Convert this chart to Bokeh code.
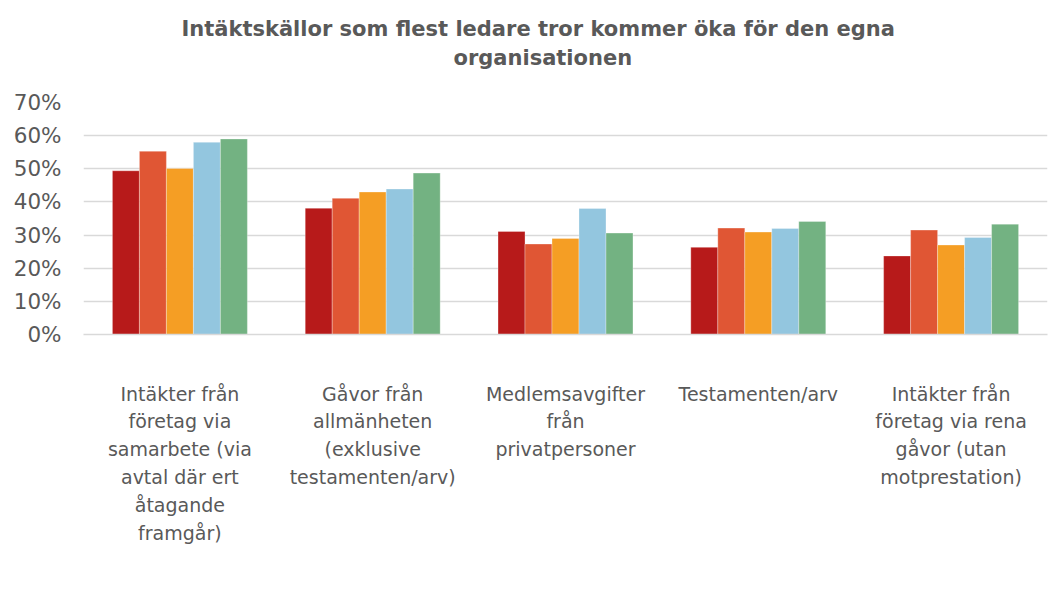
from bokeh.plotting import figure
from bokeh.models import (FactorRange, Range1d, Legend, LegendItem, Title,
                          PrintfTickFormatter, FixedTicker, ColumnDataSource)
from bokeh.transform import dodge
from bokeh.embed import file_html
from bokeh.resources import INLINE

categories = [
    "Intäkter från\nföretag via\nsamarbete (via\navtal där ert\nåtagande\nframgår)",
    "Gåvor från\nallmänheten\n(exklusive\ntestamenten/arv)",
    "Medlemsavgifter\nfrån\nprivatpersoner",
    "Testamenten/arv",
    "Intäkter från\nföretag via rena\ngåvor (utan\nmotprestation)",
]
years = ["2022", "2021", "2020", "2019", "2018"]
v2022 = [49.4, 38.1, 31.1, 26.3, 23.7]
v2021 = [55.3, 41.1, 27.3, 32.1, 31.5]
v2020 = [50.1, 43.0, 29.0, 30.9, 27.0]
v2019 = [58.0, 43.9, 38.0, 32.0, 29.3]
v2018 = [59.0, 48.7, 30.6, 34.1, 33.3]
y_ticks = [0, 10, 20, 30, 40, 50, 60, 70]
title_lines = ["Intäktskällor som flest ledare tror kommer öka för den egna",
               "organisationen"]

series = [v2022, v2021, v2020, v2019, v2018]
colors = ["#B71A1A", "#E05634", "#F59E24", "#93C6DF", "#73B282"]

FONT = "DejaVu Sans"
TXT = "#595959"

src = ColumnDataSource(dict(cat=categories, **{"y" + y: s for y, s in zip(years, series)}))

p = figure(x_range=FactorRange(*categories), y_range=Range1d(0, 70),
           frame_width=964, frame_height=232, output_backend="svg", toolbar_location=None,
           min_border_left=83, min_border_right=7, min_border_top=102,
           min_border_bottom=266)
p.outline_line_color = None

bw = 0.14
renderers = []
for i, (yr, col) in enumerate(zip(years, colors)):
    off = (i - 2) * bw
    r = p.vbar(x=dodge("cat", off, range=p.x_range), top="y" + yr, width=bw,
               source=src, fill_color=col, line_color="white", line_width=0.6,
               line_alpha=0.5)
    renderers.append(r)

# title: spacer next to the frame, then the two title lines
p.title.visible = False
p.add_layout(Title(text=" ", text_font=FONT, text_font_size="20px", standoff=5), "above")
title_offsets = [98, 370]
for line, off in reversed(list(zip(title_lines, title_offsets))):
    t = Title(text=line, align="left", text_font=FONT, text_font_size="21px",
              text_font_style="bold", text_color=TXT, offset=off, standoff=3)
    p.add_layout(t, "above")

# y axis
p.yaxis.ticker = FixedTicker(ticks=y_ticks)
p.yaxis.formatter = PrintfTickFormatter(format="%d%%")
p.yaxis.axis_line_color = None
p.yaxis.major_tick_line_color = None
p.yaxis.minor_tick_line_color = None
p.yaxis.major_tick_out = 0
p.yaxis.major_tick_in = 0
p.yaxis.major_label_text_font = FONT
p.yaxis.major_label_text_font_size = "21.5px"
p.yaxis.major_label_text_color = TXT
p.yaxis.major_label_standoff = 22

# x axis
p.xaxis.axis_line_color = "#D9D9D9"
p.xaxis.axis_line_width = 1.5
p.xaxis.major_tick_line_color = None
p.xaxis.major_label_text_font = FONT
p.xaxis.major_label_text_font_size = "19px"
p.xaxis.major_label_text_color = TXT
p.xaxis.major_label_text_line_height = 1.27
p.xaxis.major_label_standoff = 42
p.xaxis.major_label_orientation = "horizontal"
# blank axis label used only as a spacer above the legend
p.xaxis.axis_label = " "
p.xaxis.axis_label_text_font_size = "2px"
p.xaxis.axis_label_standoff = 8

p.xgrid.grid_line_color = None
p.ygrid.grid_line_color = "#D9D9D9"
p.ygrid.grid_line_width = 1.5
p.x_range.range_padding = 0

legend = Legend(items=[LegendItem(label=y, renderers=[r]) for y, r in zip(years, renderers)],
                orientation="horizontal", location="center",
                label_text_font=FONT, label_text_font_size="20px", label_text_color=TXT,
                glyph_width=17, glyph_height=17, label_standoff=3, spacing=21,
                border_line_color=None, background_fill_alpha=0, padding=0, margin=0)
p.add_layout(legend, "below")

open("out.html", "w").write(file_html(p, INLINE))
